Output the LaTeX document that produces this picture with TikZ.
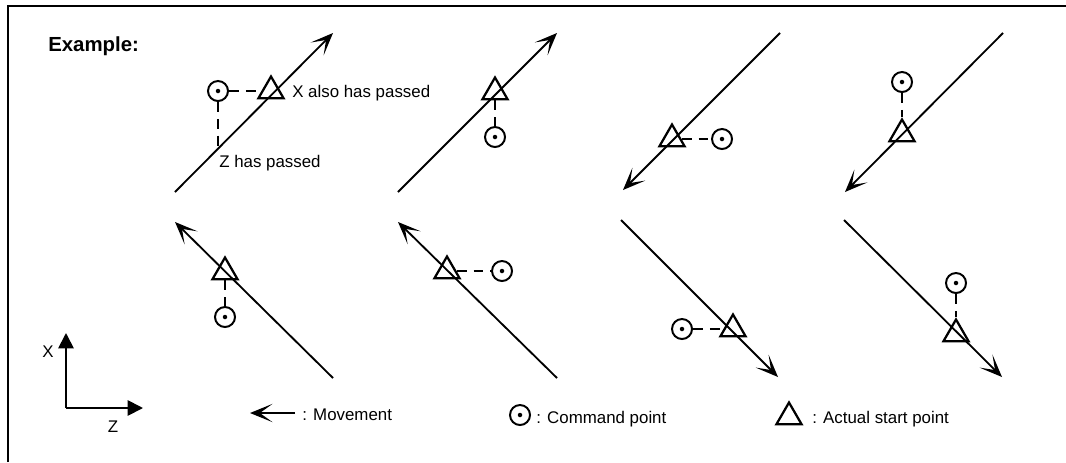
\documentclass[tikz,border=0pt]{standalone}
\usepackage{fontspec}
\setmainfont{Liberation Sans}
\usetikzlibrary{arrows.meta,shapes.geometric}
\begin{document}
\begin{tikzpicture}[x=0.025cm, y=-0.025cm, font=\fontsize{12}{14}\selectfont,
	movement/.style={line width=1.3pt, -{Stealth[length=16pt,width=13pt,inset=9pt]}},
	startpt/.style={draw, regular polygon, regular polygon sides=3, minimum size=0.725cm,
		inner sep=0pt, line width=1.6pt},
	cmdpt/.style={draw, circle, minimum size=0.5cm, inner sep=0pt, line width=1.4pt,
		path picture={\fill (path picture bounding box.center) circle (1.6pt);}},
	link/.style={line width=1.4pt, dash pattern=on 7pt off 5pt},
	axis/.style={line width=1.3pt, -{Triangle[length=11pt,width=11pt]}},
	note/.style={anchor=base west, inner sep=0pt}]
		\useasboundingbox (0,0) rectangle (1066,462);
		% Marco (solo borde superior e izquierdo)
		\draw[line width=1.6pt] (8,462) -- (8,6) -- (1066,6);
		\node[note, font=\bfseries\fontsize{14.5}{17}\selectfont] (title) at (48,51) {Example:};
		% Fila superior, caso 1: con textos
		\coordinate (s1) at (175,192); \coordinate (e1) at (333,33);
		\draw[movement] (s1) -- (e1);
		\node[startpt] (t1) at (271,91) {};
		\node[cmdpt] (c1) at (218,91) {};
		\coordinate (z1) at (218,149);
		\draw[link] (c1) -- (t1);
		\draw[link] (c1) -- (z1);
		\node[note] (xpass) at (292,97) {X also has passed};
		\node[note] (zpass) at (219,167) {Z has passed};
		% Fila superior, caso 2
		\coordinate (s2) at (398,192); \coordinate (e2) at (557,33);
		\draw[movement] (s2) -- (e2);
		\node[startpt] (t2) at (495,92) {};
		\node[cmdpt] (c2) at (495,137) {};
		\draw[link] (t2) -- (c2);
		% Fila superior, caso 3
		\coordinate (s3) at (780,33); \coordinate (e3) at (623,190);
		\draw[movement] (s3) -- (e3);
		\node[startpt] (t3) at (672,139) {};
		\node[cmdpt] (c3) at (722,139) {};
		\draw[link] (t3) -- (c3);
		% Fila superior, caso 4
		\coordinate (s4) at (1003,33); \coordinate (e4) at (845,192);
		\draw[movement] (s4) -- (e4);
		\node[startpt] (t4) at (902,134) {};
		\node[cmdpt] (c4) at (902,82) {};
		\draw[link] (c4) -- (t4);
		% Fila inferior, caso 5
		\coordinate (s5) at (333,378); \coordinate (e5) at (175,222);
		\draw[movement] (s5) -- (e5);
		\node[startpt] (t5) at (225,272) {};
		\node[cmdpt] (c5) at (225,317) {};
		\draw[link] (t5) -- (c5);
		% Fila inferior, caso 6
		\coordinate (s6) at (557,378); \coordinate (e6) at (398,222);
		\draw[movement] (s6) -- (e6);
		\node[startpt] (t6) at (447,271) {};
		\node[cmdpt] (c6) at (502,271) {};
		\draw[link] (t6) -- (c6);
		% Fila inferior, caso 7
		\coordinate (s7) at (621,220); \coordinate (e7) at (778,377);
		\draw[movement] (s7) -- (e7);
		\node[startpt] (t7) at (733,329) {};
		\node[cmdpt] (c7) at (682,329) {};
		\draw[link] (c7) -- (t7);
		% Fila inferior, caso 8
		\coordinate (s8) at (844,220); \coordinate (e8) at (1002,377);
		\draw[movement] (s8) -- (e8);
		\node[startpt] (t8) at (956,334) {};
		\node[cmdpt] (c8) at (956,283) {};
		\draw[link] (c8) -- (t8);
		% Ejes X / Z
		\coordinate (orig) at (66,408);
		\coordinate (xtip) at (66,333);
		\coordinate (ztip) at (143,408);
		\draw[axis] (orig) -- (xtip);
		\draw[axis] (orig) -- (ztip);
		\node (xlab) at (48,352) {X};
		\node (zlab) at (113,427) {Z};
		% Leyenda inferior
		\coordinate (m1) at (295,413); \coordinate (m2) at (250,413);
		\draw[movement] (m1) -- (m2);
		\node[note] (lmove) at (302,420) {: Movement};
		\node[cmdpt] (lc) at (520,415) {};
		\node[note] (lcmd) at (536,423) {: Command point};
		\node[startpt] (lt) at (789,417) {};
		\node[note] (lstart) at (812,423) {: Actual start point};
	\end{tikzpicture}
\end{document}
